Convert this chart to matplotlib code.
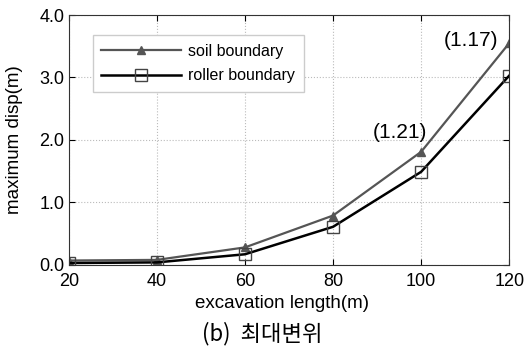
import numpy as np
import matplotlib
matplotlib.use("Agg")
import matplotlib.pyplot as plt

plt.rcParams['font.family'] = ['Liberation Sans', 'Noto Sans CJK KR', 'DejaVu Sans']

# excavation length (m) and maximum displacement (m)
length = [20, 40, 60, 80, 100, 120]
soil = [0.07, 0.08, 0.28, 0.79, 1.81, 3.55]
roller = [0.03, 0.04, 0.17, 0.61, 1.49, 3.03]

fig = plt.figure(figsize=(5.25, 3.49), dpi=100)
ax = fig.add_axes([0.131, 0.241, 0.839, 0.716])

ax.plot(length, soil, color='#555555', lw=1.6, marker='^', ms=6,
        mfc='#555555', mec='#555555', label='soil boundary')
ax.plot(length, roller, color='black', lw=1.8, marker='s', ms=8.5,
        mfc='none', mec='#444444', mew=1.0, label='roller boundary')

# ratio labels soil/roller, offsets in points
ratio_idx = [4, 5]
ratio_offset = [(4, 7), (-8, -5)]
for i, off in zip(ratio_idx, ratio_offset):
    ax.annotate(f"({soil[i] / roller[i]:.2f})", (length[i], soil[i]),
                xytext=off, textcoords='offset points',
                ha='right', va='bottom', fontsize=15)

ax.set_xlim(20, 120)
ax.set_ylim(0, 4)
ax.set_xticks(length)
ax.set_yticks([0, 1, 2, 3, 4])
ax.set_yticklabels(['0.0', '1.0', '2.0', '3.0', '4.0'])
ax.tick_params(direction='in', labelsize=13, top=True, right=True, length=4)
ax.tick_params(axis='x', pad=6)
ax.tick_params(axis='y', pad=3)
ax.grid(True, ls=':', color='#bbbbbb', lw=0.8)
for s in ax.spines.values():
    s.set_color('#333333')

ax.set_xlabel('excavation length(m)', fontsize=13.5)
ax.xaxis.set_label_coords(0.485, -0.12)
ax.set_ylabel('maximum disp(m)', fontsize=13.5)
ax.yaxis.set_label_coords(-0.105, 0.5)

leg = ax.legend(loc='upper left', bbox_to_anchor=(0.054, 0.92), fontsize=11.5,
                fancybox=False, framealpha=1, handlelength=5.0, borderpad=0.55,
                labelspacing=0.6, handletextpad=0.45, borderaxespad=0)
leg.get_frame().set_edgecolor('#cccccc')

fig.text(0.5, 0.045, '(b)  최대변위', ha='center', va='center', fontsize=16,
         family=['Noto Sans CJK KR', 'DejaVu Sans'])

fig.savefig('out.png', dpi=100)
